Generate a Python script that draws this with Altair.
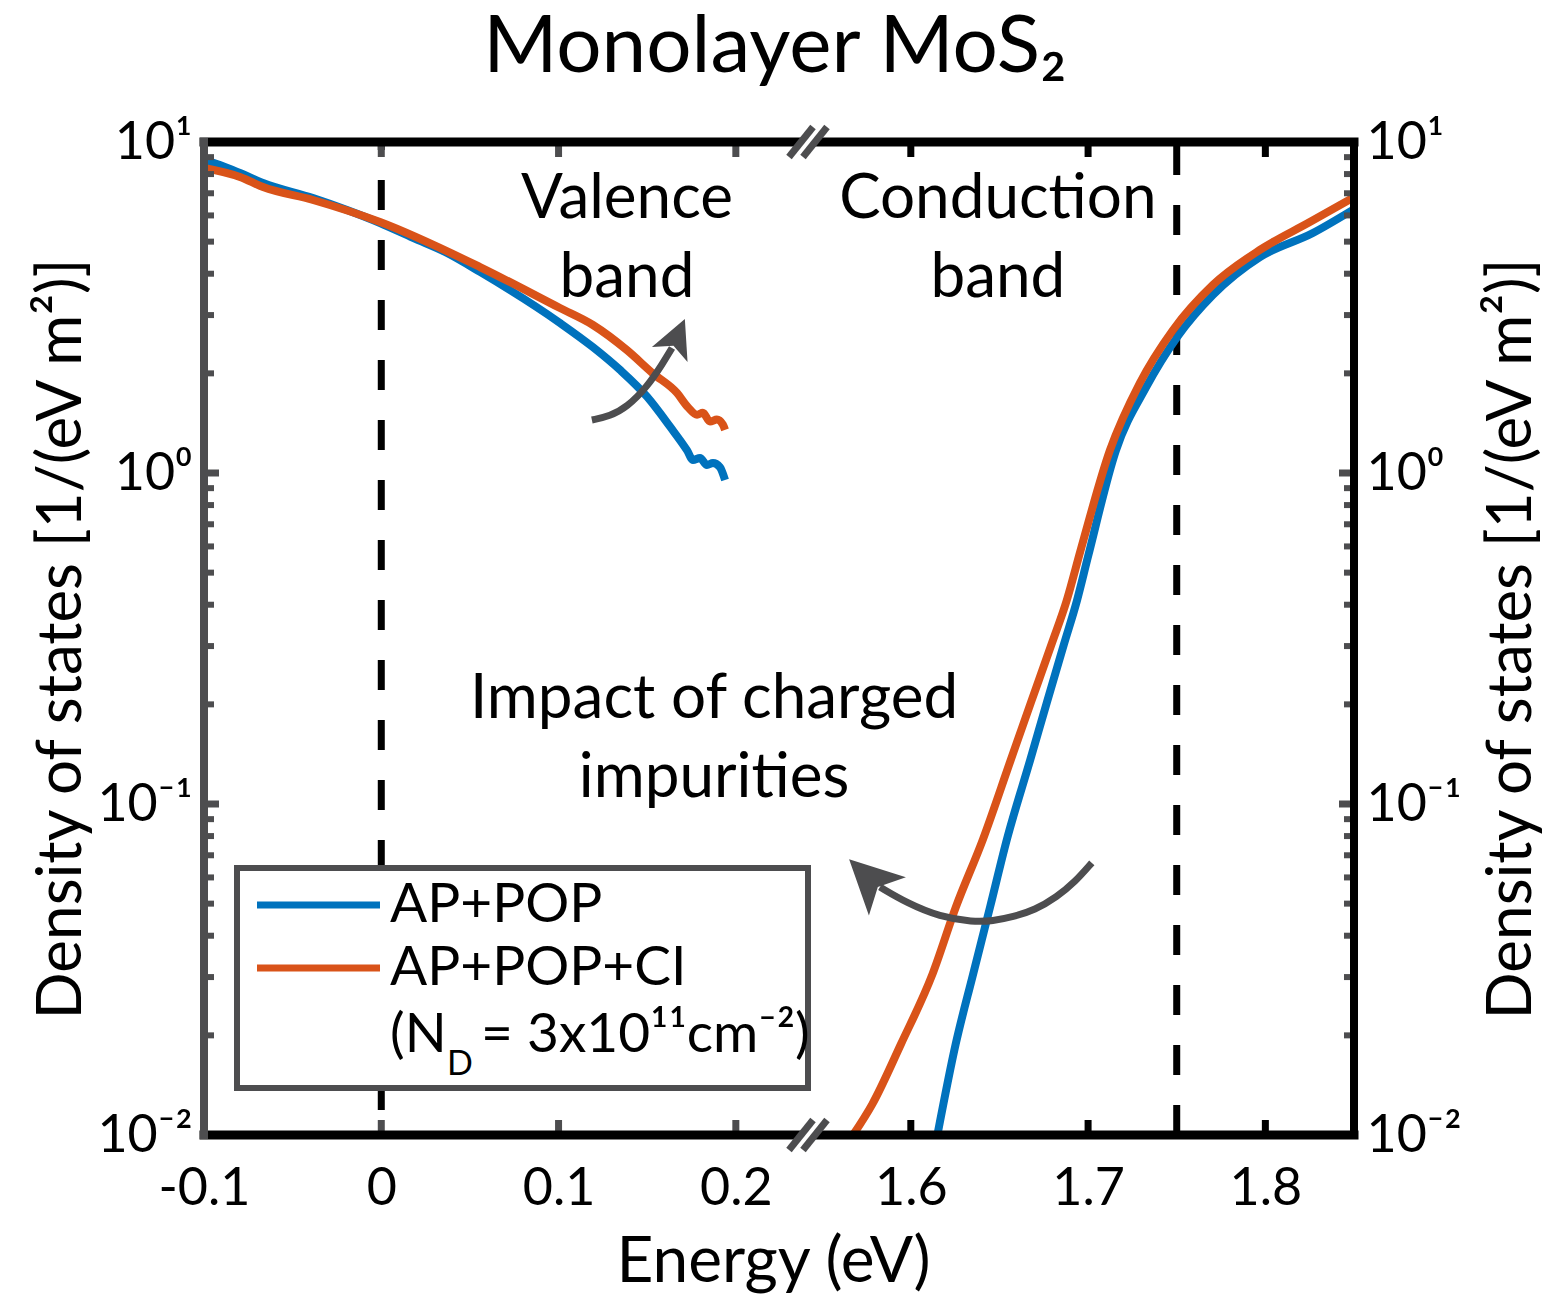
import altair as alt
import pandas as pd

FONT = "Lato"
GRAY = "#4d4d4f"
BLUE = "#0072BD"
ORANGE = "#D95319"
W, H = 1150, 993

# broken x axis: left panel shows E directly, right panel shows E - SHIFT
U_MIN, U_MAX = -0.1, 0.5487
SHIFT = 1.3013

series_names = ["AP+POP", "AP+POP+CI"]

# valence band (left panel)
vb_blue_E = [-0.1, -0.091, -0.0797, -0.0667, -0.0385, -0.0193, -0.0007, 0.0179, 0.0371, 0.0557,
             0.1008, 0.1194, 0.1346, 0.1499, 0.1629, 0.1725, 0.1758, 0.1798, 0.1837, 0.1871, 0.191, 0.1939]
vb_blue_dos = [8.82, 8.52, 8.06, 7.52, 6.77, 6.23, 5.69, 5.13, 4.62, 4.05,
               2.84, 2.40, 2.05, 1.70, 1.38, 1.17, 1.095, 1.11, 1.057, 1.072, 1.042, 0.953]
vb_orange_E = [-0.1, -0.0797, -0.0667, -0.0385, -0.0007, 0.0557, 0.1008, 0.1194, 0.1386, 0.1532,
               0.1668, 0.173, 0.1781, 0.1814, 0.1854, 0.1893, 0.1927, 0.1939]
vb_orange_dos = [8.35, 7.84, 7.31, 6.68, 5.73, 4.19, 3.15, 2.80, 2.35, 2.00,
                 1.745, 1.58, 1.50, 1.52, 1.43, 1.45, 1.40, 1.35]

# conduction band (right panel)
cb_blue_E = [1.6150, 1.6254, 1.6350, 1.6447, 1.6543, 1.6672, 1.6768, 1.6864, 1.6938, 1.7000,
             1.7157, 1.7326, 1.7506, 1.7704, 1.7969, 1.8268, 1.8494]
cb_blue_dos = [0.0100, 0.0189, 0.0304, 0.0488, 0.0785, 0.135, 0.203, 0.304, 0.413, 0.560,
               1.17, 1.81, 2.59, 3.45, 4.49, 5.31, 6.24]
cb_orange_E = [1.5674, 1.5783, 1.5946, 1.6120, 1.6254, 1.6408, 1.6562, 1.6678, 1.6794, 1.6880,
               1.6960, 1.7123, 1.7292, 1.7478, 1.7704, 1.7969, 1.8251, 1.8494]
cb_orange_dos = [0.0100, 0.0124, 0.0189, 0.0304, 0.0488, 0.0785, 0.135, 0.203, 0.304, 0.413,
                 0.590, 1.17, 1.87, 2.70, 3.70, 4.72, 5.73, 6.78]

# axis ticks
x_ticks_left = [-0.1, 0.0, 0.1, 0.2]
x_ticks_right = [1.6, 1.7, 1.8]
x_tick_labels = ["-0.1", "0", "0.1", "0.2", "1.6", "1.7", "1.8"]
y_major = [0.01, 0.1, 1, 10]
y_major_labels = ["10⁻²", "10⁻¹", "10⁰", "10¹"]
y_minor = [k * m for m in (0.01, 0.1, 1) for k in range(2, 10)]

vlines_E = [0.0, 1.75]

# annotations
ann_text = ["Valence\nband", "Conduction\nband", "Impact of charged\nimpurities"]
ann_E = [0.1386, 1.6491, 0.1877]
ann_dos = [5.89, 5.89, 0.182]

arrow1_E = [0.1188, 0.129, 0.1386, 0.1499, 0.1589, 0.164]
arrow1_dos = [1.446, 1.486, 1.582, 1.819, 2.149, 2.386]
arrow2_E = [1.7021, 1.6926, 1.6824, 1.6700, 1.6576, 1.6463, 1.635, 1.6164, 1.5978, 1.5826]
arrow2_dos = [0.0664, 0.0581, 0.0524, 0.0478, 0.0456, 0.0443, 0.0440, 0.0456, 0.0502, 0.0561]
head_E = [0.1665, 1.5772]
head_dos = [2.545, 0.0590]
head_angle = [23, 314]
head_size = [1850, 3500]


def to_u(e):
    return e - SHIFT if e > 1 else e


rows = []
for name, seg, Es, Ds in [
    (series_names[0], "vb", vb_blue_E, vb_blue_dos),
    (series_names[1], "vb", vb_orange_E, vb_orange_dos),
    (series_names[0], "cb", cb_blue_E, cb_blue_dos),
    (series_names[1], "cb", cb_orange_E, cb_orange_dos),
]:
    for e, d in zip(Es, Ds):
        rows.append({"E": e, "u": to_u(e), "dos": d, "series": name, "seg": seg})
df_lines = pd.DataFrame(rows)

xs = alt.Scale(domain=[U_MIN, U_MAX], nice=False, zero=False)
ys = alt.Scale(type="log", domain=[0.01, 10], nice=False)

tick_u = [round(to_u(e), 4) for e in x_ticks_left + x_ticks_right]
x_expr = "".join(f"abs(datum.value - ({u})) < 0.001 ? '{lab}' : " for u, lab in zip(tick_u, x_tick_labels)) + "''"
y_expr = "".join(f"abs(log(datum.value) - log({v})) < 0.01 ? '{lab}' : " for v, lab in zip(y_major, y_major_labels)) + "''"

x_axis = alt.Axis(values=tick_u, labelExpr=x_expr, tickSize=0, domain=False, grid=False,
                  labelFont=FONT, labelFontSize=52, labelColor="black", labelPadding=28,
                  labelFlush=False, labelOverlap=False,
                  title="Energy (eV)", titleFont=FONT, titleFontSize=64, titleFontWeight="normal",
                  titleColor="black", titleX=569, titleY=146, titleBaseline="alphabetic", titleAlign="center")

y_title = "Density of states [1/(eV m²)]"
y_axis_left = alt.Axis(values=y_major, labelExpr=y_expr, tickSize=0, domain=False, grid=False,
                       labelFont=FONT, labelFontSize=52, labelColor="black", labelPadding=12,
                       labelFlush=False,
                       title=y_title, titleFont=FONT, titleFontSize=62, titleFontWeight="normal",
                       titleColor="black", titleAngle=270, titleX=-124, titleY=H / 2,
                       titleBaseline="alphabetic", titleAlign="center")
y_axis_right = alt.Axis(orient="right", values=y_major, labelExpr=y_expr, tickSize=0, domain=False,
                        grid=False, labelFont=FONT, labelFontSize=52, labelColor="black", labelPadding=12,
                        labelFlush=False,
                        title=y_title, titleFont=FONT, titleFontSize=62, titleFontWeight="normal",
                        titleColor="black", titleAngle=270, titleX=176, titleY=H / 2,
                        titleBaseline="alphabetic", titleAlign="center")

X = lambda: alt.X("u:Q", scale=xs, axis=x_axis)
Y = lambda: alt.Y("dos:Q", scale=ys, axis=None)

# dashed vertical lines
dash_layers = []
for e, off in zip(vlines_E, [22, 57]):
    dash_layers.append(
        alt.Chart(pd.DataFrame({"u": [to_u(e)]}))
        .mark_rule(color="black", strokeWidth=7, strokeDash=[30, 30], strokeDashOffset=off)
        .encode(x=X())
    )

lines = (
    alt.Chart(df_lines)
    .mark_line(strokeWidth=8, clip=True, interpolate="monotone")
    .encode(
        x=X(),
        y=alt.Y("dos:Q", scale=ys, axis=y_axis_left),
        color=alt.Color("series:N", scale=alt.Scale(domain=series_names, range=[BLUE, ORANGE]), legend=None),
        detail="seg:N",
        order="E:Q",
    )
)

# y ticks (inward)
df_ymaj = pd.DataFrame({"dos": y_major})
df_ymin = pd.DataFrame({"dos": y_minor})
yt_left_maj = alt.Chart(df_ymaj).mark_rule(color=GRAY, strokeWidth=7).encode(
    x=alt.value(0), x2=alt.value(15), y=Y())
yt_left_min = alt.Chart(df_ymin).mark_rule(color=GRAY, strokeWidth=6).encode(
    x=alt.value(0), x2=alt.value(10), y=Y())
yt_right_maj = alt.Chart(df_ymaj).mark_rule(color=GRAY, strokeWidth=7).encode(
    x=alt.value(W - 15), x2=alt.value(W), y=alt.Y("dos:Q", scale=ys, axis=y_axis_right))
yt_right_min = alt.Chart(df_ymin).mark_rule(color=GRAY, strokeWidth=6).encode(
    x=alt.value(W - 10), x2=alt.value(W), y=Y())

# x ticks (inward, top and bottom)
df_xt_left = pd.DataFrame({"u": [to_u(e) for e in x_ticks_left]})
df_xt_right = pd.DataFrame({"u": [to_u(e) for e in x_ticks_right]})
xt_layers = []
for dfx, col in [(df_xt_left, GRAY), (df_xt_right, "black")]:
    xt_layers.append(alt.Chart(dfx).mark_rule(color=col, strokeWidth=7).encode(
        x=X(), y=alt.value(0), y2=alt.value(15)))
    xt_layers.append(alt.Chart(dfx).mark_rule(color=col, strokeWidth=7).encode(
        x=X(), y=alt.value(H - 15), y2=alt.value(H)))

# frame
frame_top = alt.Chart().mark_rule(color="black", strokeWidth=9, strokeCap="square").encode(
    x=alt.value(0), x2=alt.value(W), y=alt.value(0))
frame_bottom = alt.Chart().mark_rule(color="black", strokeWidth=9, strokeCap="square").encode(
    x=alt.value(0), x2=alt.value(W), y=alt.value(H))
frame_right = alt.Chart().mark_rule(color="black", strokeWidth=8, strokeCap="square").encode(
    x=alt.value(W), y=alt.value(0), y2=alt.value(H))
frame_left = alt.Chart().mark_rule(color=GRAY, strokeWidth=8, strokeCap="square").encode(
    x=alt.value(0), y=alt.value(0), y2=alt.value(H))

# axis break marks "//"
break_layers = []
for y0 in (0, H):
    break_layers.append(alt.Chart().mark_rule(color="white", strokeWidth=7).encode(
        x=alt.value(592), x2=alt.value(616), y=alt.value(y0 + 15), y2=alt.value(y0 - 15)))
    for dx in (585, 599):
        break_layers.append(alt.Chart().mark_rule(color=GRAY, strokeWidth=7).encode(
            x=alt.value(dx), x2=alt.value(dx + 24), y=alt.value(y0 + 15), y2=alt.value(y0 - 15)))

# legend box
leg_box = alt.Chart().mark_rect(fill="white", stroke=GRAY, strokeWidth=6).encode(
    x=alt.value(33), x2=alt.value(604), y=alt.value(726), y2=alt.value(946))
leg_l1 = alt.Chart().mark_rule(color=BLUE, strokeWidth=7).encode(
    x=alt.value(53), x2=alt.value(176), y=alt.value(763))
leg_l2 = alt.Chart().mark_rule(color=ORANGE, strokeWidth=7).encode(
    x=alt.value(53), x2=alt.value(176), y=alt.value(826))
tkw = dict(font=FONT, color="black", align="left", baseline="middle")
leg_t1 = alt.Chart().mark_text(text=series_names[0], fontSize=55, **tkw).encode(
    x=alt.value(186), y=alt.value(763))
leg_t2 = alt.Chart().mark_text(text=series_names[1], fontSize=55, **tkw).encode(
    x=alt.value(186), y=alt.value(826))
leg_t3a = alt.Chart().mark_text(text="(N", fontSize=55, **tkw).encode(x=alt.value(186), y=alt.value(893))
leg_t3b = alt.Chart().mark_text(text="D", fontSize=34, **tkw).encode(x=alt.value(243), y=alt.value(923))
leg_t3c = alt.Chart().mark_text(text="= 3x10¹¹cm⁻²)", fontSize=55, **tkw).encode(
    x=alt.value(277), y=alt.value(893))

# annotation texts
df_ann = pd.DataFrame({"u": [to_u(e) for e in ann_E], "dos": ann_dos, "text": ann_text})
ann = alt.Chart(df_ann).mark_text(font=FONT, fontSize=62, color="black", align="center",
                                  baseline="alphabetic", lineBreak="\n", lineHeight=79).encode(
    x=X(), y=Y(), text="text:N")

# arrows
df_a1 = pd.DataFrame({"u": [to_u(e) for e in arrow1_E], "dos": arrow1_dos, "i": range(len(arrow1_E))})
df_a2 = pd.DataFrame({"u": [to_u(e) for e in arrow2_E], "dos": arrow2_dos, "i": range(len(arrow2_E))})
arrow_lines = [
    alt.Chart(d).mark_line(color=GRAY, strokeWidth=7, interpolate="basis").encode(x=X(), y=Y(), order="i:Q")
    for d in (df_a1, df_a2)
]
head_path = "M0,-1L0.9,0.8L0,0.35L-0.9,0.8Z"
head_layers = []
for e, d, a, s in zip(head_E, head_dos, head_angle, head_size):
    head_layers.append(
        alt.Chart(pd.DataFrame({"u": [to_u(e)], "dos": [d]}))
        .mark_point(shape=head_path, filled=True, color=GRAY, opacity=1, angle=a, size=s)
        .encode(x=X(), y=Y())
    )

title = alt.Chart().mark_text(text="Monolayer MoS₂", font=FONT, fontSize=80, color="black",
                              align="center", baseline="alphabetic").encode(
    x=alt.value(571), y=alt.value(-70))

chart = (
    alt.layer(
        *dash_layers, lines, yt_left_maj, yt_left_min, yt_right_maj, yt_right_min, *xt_layers,
        frame_top, frame_bottom, frame_right, frame_left, *break_layers,
        leg_box, leg_l1, leg_l2, leg_t1, leg_t2, leg_t3a, leg_t3b, leg_t3c,
        ann, *arrow_lines, *head_layers, title,
    )
    .resolve_scale(y="independent")
    .properties(width=W, height=H, background="white",
                padding={"left": 196, "top": 134, "right": 188, "bottom": 161},
                autosize=alt.AutoSizeParams(type="none"))
    .configure_view(strokeWidth=0)
    .configure(font=FONT)
)

chart.save("out.html", embed_options={"renderer": "svg", "actions": False})
